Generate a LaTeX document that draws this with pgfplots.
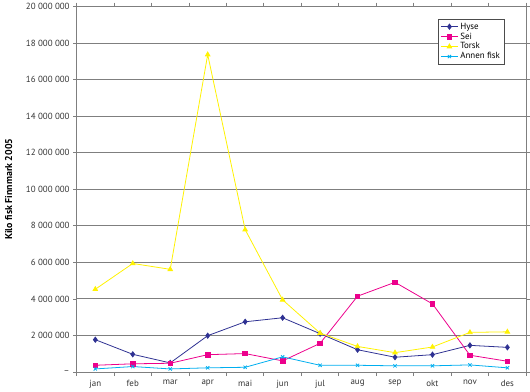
\documentclass[border=0pt]{standalone}
\usepackage{fontspec}
\setmainfont{PT Sans}
\usepackage{pgfplots}
\pgfplotsset{compat=1.18}
\definecolor{hyse}{HTML}{2E3192}
\definecolor{sei}{HTML}{EC008C}
\definecolor{torsk}{HTML}{FFF200}
\definecolor{annen}{HTML}{00AEEF}
\definecolor{gridc}{HTML}{7F7F7F}
\begin{document}
\begin{tikzpicture}
\begin{axis}[
  scale only axis,
  width=452bp, height=367.5bp,
  xmin=0.5, xmax=12.5,
  ymin=0, ymax=20000000,
  xtick={1,2,3,4,5,6,7,8,9,10,11,12},
  xticklabels={jan,feb,mar,apr,mai,jun,jul,aug,sep,okt,nov,des},
  minor xtick={0.5,1.5,2.5,3.5,4.5,5.5,6.5,7.5,8.5,9.5,10.5,11.5,12.5},
  major x tick style={draw=none},
  minor tick length=4bp,
  major tick length=3.5bp,
  tick align=outside,
  ytick={0,2000000,4000000,6000000,8000000,10000000,12000000,14000000,16000000,18000000,20000000},
  yticklabels={--,2 000 000,4 000 000,6 000 000,8 000 000,10 000 000,12 000 000,14 000 000,16 000 000,18 000 000,20 000 000},
  scaled y ticks=false,
  ymajorgrids,
  grid style={draw=gridc, line width=0.9pt},
  axis line style={draw=gridc, line width=0.8pt},
  tick style={draw=gridc, line width=0.8pt},
  tick label style={font=\fontsize{9}{10.8}\selectfont, text=black!80},
  xticklabel style={yshift=-1bp},
  ylabel={\bfseries Kilo fisk Finnmark 2005},
  ylabel style={font=\fontsize{9}{10.8}\selectfont},
  every axis y label/.style={at={(ticklabel cs:0.5)}, rotate=90, anchor=near ticklabel, yshift=7bp},
  legend style={at={(0.951,0.967)}, anchor=north east, draw=black!70, line width=0.5pt,
     font=\fontsize{9}{10.8}\selectfont, row sep=-1.8pt, inner sep=2pt},
  legend cell align=left,
  every axis plot/.append style={line width=0.8pt},
]
\addplot[hyse, mark=diamond*, mark size=2.6pt] coordinates {
 (1,1770000) (2,970000) (3,500000) (4,1990000) (5,2750000) (6,2970000)
 (7,2100000) (8,1220000) (9,810000) (10,950000) (11,1460000) (12,1350000)};
\addlegendentry{Hyse}
\addplot[sei, mark=square*, mark size=2.3pt] coordinates {
 (1,370000) (2,450000) (3,480000) (4,950000) (5,1010000) (6,610000)
 (7,1570000) (8,4150000) (9,4910000) (10,3730000) (11,920000) (12,590000)};
\addlegendentry{Sei}
\addplot[torsk, mark=triangle*, mark size=2.6pt] coordinates {
 (1,4530000) (2,5940000) (3,5620000) (4,17370000) (5,7790000) (6,3950000)
 (7,2130000) (8,1400000) (9,1060000) (10,1370000) (11,2170000) (12,2200000)};
\addlegendentry{Torsk}
\addplot[annen, mark=x, mark size=2.3pt] coordinates {
 (1,170000) (2,300000) (3,170000) (4,230000) (5,260000) (6,830000)
 (7,370000) (8,370000) (9,340000) (10,340000) (11,390000) (12,230000)};
\addlegendentry{Annen fisk}
\draw[gridc, line width=0.8pt] (rel axis cs:1,0) -- (rel axis cs:1,1);
\end{axis}
\path (-77bp,-17.5bp) rectangle (453bp,372.5bp);
\end{tikzpicture}
\end{document}
